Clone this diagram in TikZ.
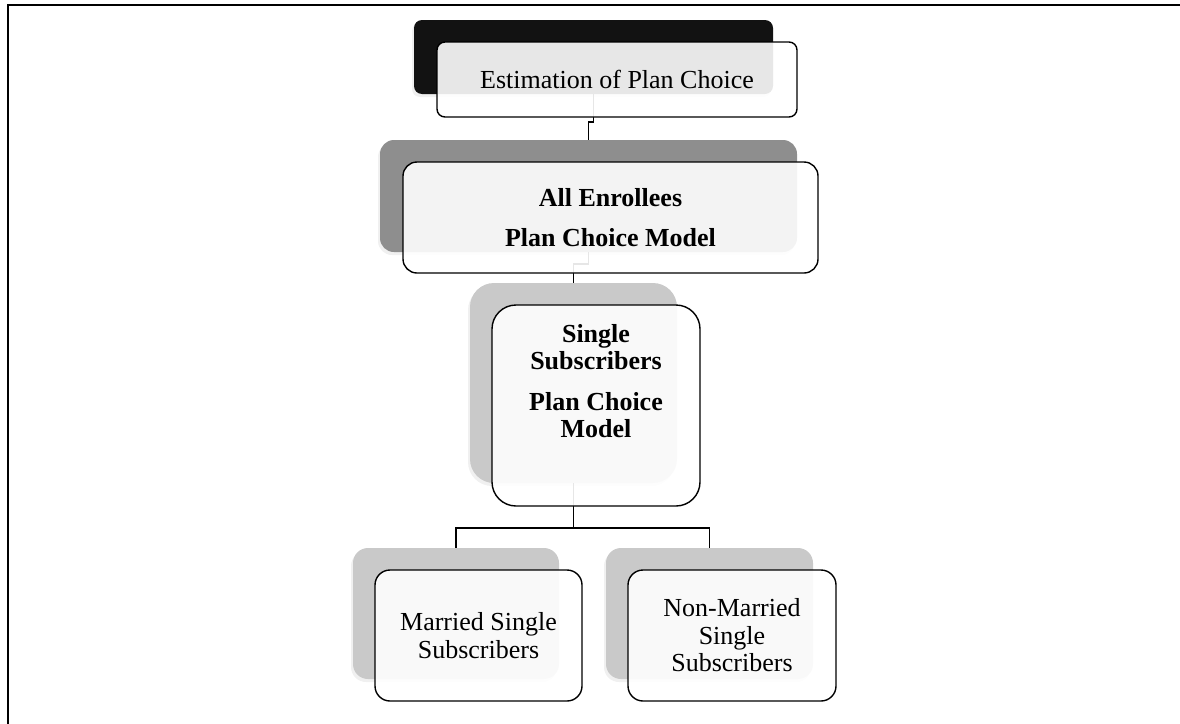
\documentclass[tikz,border=0pt]{standalone}
\usepackage{fontspec}
\setmainfont{Liberation Serif}
\usetikzlibrary{shadows}
\definecolor{backA}{HTML}{121212}
\definecolor{backB}{HTML}{8E8E8E}
\definecolor{backC}{HTML}{C9C9C9}
\pgfdeclarelayer{bg}
\pgfdeclarelayer{mid}
\pgfsetlayers{bg,mid,main}
\begin{document}
\begin{tikzpicture}[x=1pt,y=-1pt,
  backbox/.style={draw=none, anchor=north west, inner sep=0pt, outer sep=0pt,
    drop shadow={shadow xshift=-2pt, shadow yshift=-3pt, opacity=0.12}},
  frontbox/.style={draw=black, line width=1.4pt, fill=white, fill opacity=0.9, text opacity=1,
    anchor=north west, inner sep=0pt, outer sep=0pt, align=center,
    font=\fontsize{26}{27.5}\selectfont},
  boldtext/.style={align=center, inner sep=0pt, font=\fontsize{26}{27}\selectfont\bfseries},
  link/.style={draw=black, line width=1.4pt}]
\useasboundingbox (0,0) rectangle (1180,723);
\draw[line width=2pt] (8,724) -- (8,5) -- (1181,5);

% back boxes
\begin{pgfonlayer}{bg}
\node[backbox, fill=backA, rounded corners=8pt, minimum width=359pt, minimum height=74pt] (b1) at (414,20) {};
\node[backbox, fill=backB, rounded corners=14pt, minimum width=417pt, minimum height=112pt] (b2) at (380,140) {};
\node[backbox, fill=backC, rounded corners=24pt, minimum width=207pt, minimum height=200pt] (b3) at (470,283) {};
\node[backbox, fill=backC, rounded corners=15pt, minimum width=206pt, minimum height=131pt] (b4) at (353,548) {};
\node[backbox, fill=backC, rounded corners=15pt, minimum width=207pt, minimum height=131pt] (b5) at (606,548) {};
\end{pgfonlayer}

% front boxes
\node[frontbox, rounded corners=8pt, minimum width=360pt, minimum height=75pt] (f1) at (437,42) {Estimation of Plan Choice};
\node[frontbox, rounded corners=14pt, minimum width=415pt, minimum height=111pt] (f2) at (403,162) {};
\node[boldtext] (t2) at (f2.center) {All Enrollees\\[13pt]Plan Choice Model};
\node[frontbox, rounded corners=24pt, minimum width=208pt, minimum height=201pt] (f3) at (492,305) {};
\node[boldtext] (t3) at (596,381) {Single\\Subscribers\\[14pt]Plan Choice\\Model};
\node[frontbox, rounded corners=15pt, minimum width=207pt, minimum height=131pt] (f4) at (375,570) {Married Single\\Subscribers};
\node[frontbox, rounded corners=15pt, minimum width=208pt, minimum height=131pt] (f5) at (628,570) {Non-Married\\Single\\Subscribers};

% connectors
\begin{pgfonlayer}{mid}
\draw[link] (b1.south) -- ++(0,28) -| (b2.north);
\draw[link] (b2.south) -- ++(0,12) -| (b3.north);
\draw[link] (b3.south) -- ++(0,45) coordinate (j) -| (b4.north);
\draw[link] (j) -| (b5.north);
\end{pgfonlayer}
\end{tikzpicture}
\end{document}
